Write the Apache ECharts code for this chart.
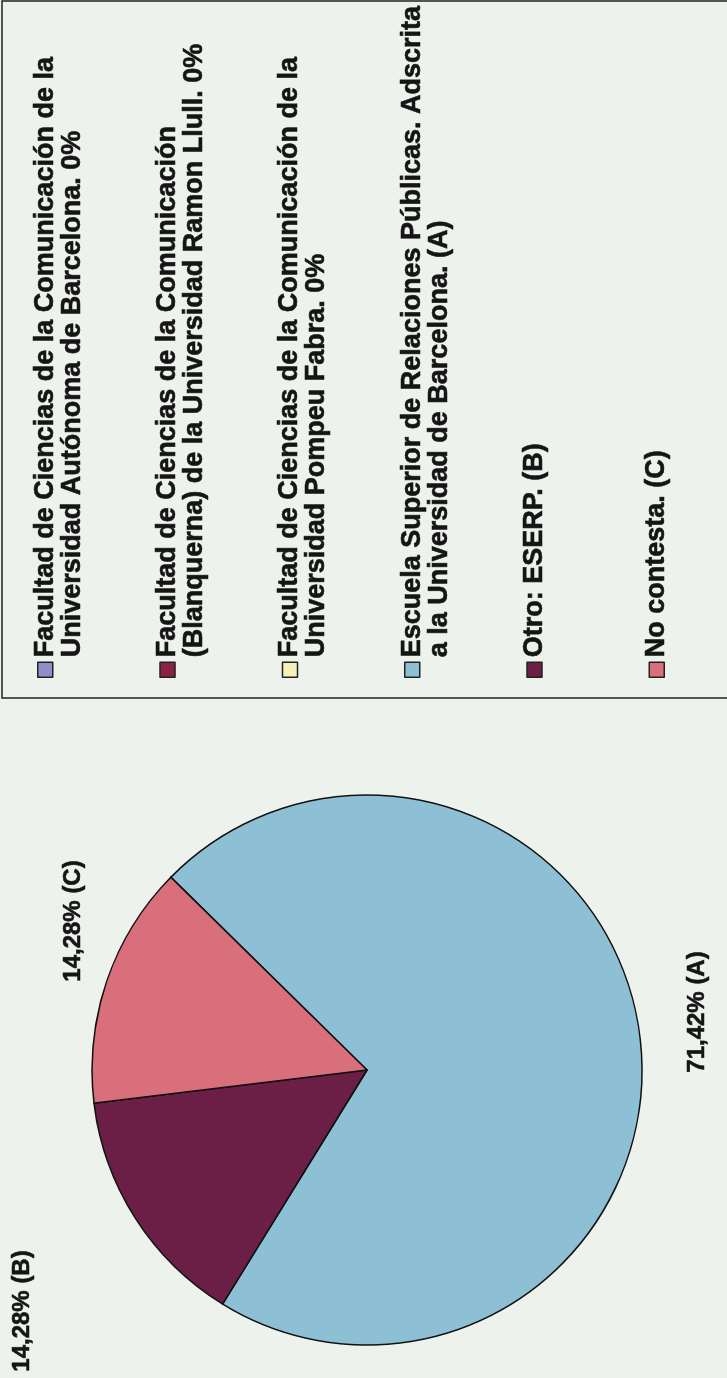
<!DOCTYPE html>
<html><head><meta charset="utf-8">
<script src="https://cdn.jsdelivr.net/npm/echarts@6/dist/echarts.min.js"></script>
<style>
html,body{margin:0;padding:0;background:#edf2ec;overflow:hidden;width:727px;height:1378px;}
#chart{position:absolute;left:0;top:0;width:1378px;height:727px;transform-origin:0 0;transform:translate(0,1378px) rotate(-90deg);}
</style></head><body><div id="chart"></div>
<script>
// categories (legend entries, line breaks as in the original legend)
const categories = [
  'Facultad de Ciencias de la Comunicación de la\nUniversidad Autónoma de Barcelona. 0%',
  'Facultad de Ciencias de la Comunicación\n(Blanquerna) de la Universidad Ramon Llull. 0%',
  'Facultad de Ciencias de la Comunicación de la\nUniversidad Pompeu Fabra. 0%',
  'Escuela Superior de Relaciones Públicas. Adscrita\na la Universidad de Barcelona. (A)',
  'Otro: ESERP. (B)',
  'No contesta. (C)'
];
// percentage values
const values = [0, 0, 0, 71.42, 14.28, 14.28];
// tags appended to slice labels
const labelTags = ['', '', '', '(A)', '(B)', '(C)'];

const FONT = "'Liberation Sans', Arial, Helvetica, sans-serif";
const chart = echarts.init(document.getElementById('chart'), null, {renderer: 'canvas'});

const labelPos = {3: [366, 697], 4: [67, 22], 5: [457, 73]};

chart.setOption({
  animation: false,
  backgroundColor: '#edf2ec',
  color: ['#8e8ec9', '#8a2246', '#f4f2b8', '#8ec0d5', '#6b1f47', '#d86f7b'],
  graphic: [{
    type: 'rect', silent: true,
    shape: {x: 680, y: 2, width: 697, height: 740},
    style: {fill: 'none', stroke: '#222', lineWidth: 1.5}
  }],
  legend: {
    orient: 'vertical', left: 700, top: 4.5, padding: 0,
    itemWidth: 15, itemHeight: 15, itemGap: 40.7,
    icon: 'rect', selectedMode: false,
    data: categories,
    formatter: n => (n.split('\n').length === 1 ? '\n' + n + '\n' : '\n' + n),
    textStyle: {fontFamily: FONT, fontWeight: 'bold', fontSize: 27, lineHeight: 27, color: '#151515',
                textBorderColor: '#151515', textBorderWidth: 0.6},
    itemStyle: {borderColor: '#222', borderWidth: 1.5}
  },
  series: [{
    type: 'pie',
    center: [308, 367], radius: 275,
    startAngle: 45.5, clockwise: true,
    avoidLabelOverlap: false,
    emphasis: {disabled: true},
    itemStyle: {borderColor: '#111', borderWidth: 1.5},
    label: {
      show: true, position: 'outside',
      fontFamily: FONT, fontWeight: 'bold', fontSize: 24, color: '#151515',
      textBorderColor: '#151515', textBorderWidth: 0.6,
      formatter: p => p.value ? p.value.toFixed(2).replace('.', ',') + '% ' + labelTags[p.dataIndex] : ''
    },
    labelLine: {show: false},
    labelLayout: p => {
      const q = labelPos[p.dataIndex];
      return q ? {x: q[0], y: q[1], align: 'center', verticalAlign: 'middle'} : {};
    },
    data: categories.map((c, i) => ({name: c, value: values[i]}))
  }]
});
</script></body></html>
